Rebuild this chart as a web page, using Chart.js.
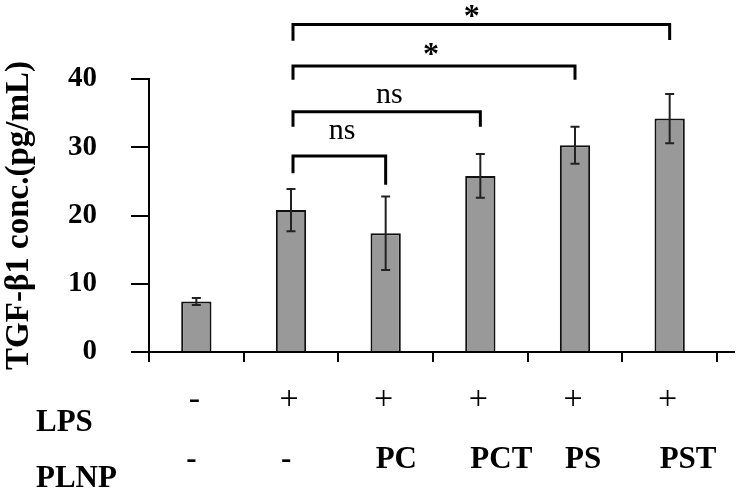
<!DOCTYPE html>
<html>
<head>
<meta charset="utf-8">
<script src="https://cdn.jsdelivr.net/npm/chart.js@4/dist/chart.umd.min.js"></script>
<style>
  html, body { margin: 0; padding: 0; background: #fff; }
  #wrap { width: 739px; height: 495px; }
</style>
</head>
<body>
<div id="wrap"><canvas id="tgfChart"></canvas></div>
<script>
// groups and values
const groups = ['Control', 'LPS', 'LPS+PC', 'LPS+PCT', 'LPS+PS', 'LPS+PST'];
const lpsRow = ['-', '+', '+', '+', '+', '+'];
const plnpRow = ['-', '-', 'PC', 'PCT', 'PS', 'PST'];
const tgfMeans = [7.4, 20.8, 17.4, 25.8, 30.3, 34.2];
const tgfErrors = [0.5, 3.1, 5.4, 3.2, 2.7, 3.6];
const yTicks = [0, 10, 20, 30, 40];

// significance brackets (bar indexes and heights in pg/mL)
const bracketFrom = [1, 1, 1, 1];
const bracketTo = [2, 3, 4, 5];
const bracketTop = [28.7, 35.2, 41.9, 48.0];
const bracketLegLeft = [26.2, 33.0, 39.9, 45.6];
const bracketLegRight = [24.5, 33.0, 39.9, 45.7];
const bracketText = ['ns', 'ns', '*', '*'];
const bracketTextAt = [1.54, 2.04, 2.48, 2.91];
const bracketTextY = [32.3, 37.7, 44.3, 49.9];

const serif = "'Liberation Serif', 'Times New Roman', serif";

const extras = {
  id: 'extras',
  afterDatasetsDraw(chart) {
    const ctx = chart.ctx;
    const x = chart.scales.x;
    const y = chart.scales.y;
    const area = chart.chartArea;
    ctx.save();

    // error bars
    ctx.strokeStyle = '#222';
    ctx.lineWidth = 2;
    tgfMeans.forEach(function(m, i) {
      const cx = x.getPixelForValue(i);
      const hi = y.getPixelForValue(m + tgfErrors[i]);
      const lo = y.getPixelForValue(m - tgfErrors[i]);
      ctx.beginPath();
      ctx.moveTo(cx, hi); ctx.lineTo(cx, lo);
      ctx.moveTo(cx - 4.5, hi); ctx.lineTo(cx + 4.5, hi);
      ctx.moveTo(cx - 4.5, lo); ctx.lineTo(cx + 4.5, lo);
      ctx.stroke();
    });

    // baseline runs a bit past the last tick
    ctx.strokeStyle = '#000';
    ctx.lineWidth = 2;
    ctx.beginPath();
    ctx.moveTo(area.right - 2, y.getPixelForValue(0));
    ctx.lineTo(area.right + 18, y.getPixelForValue(0));
    ctx.stroke();

    // brackets
    ctx.lineWidth = 3;
    bracketFrom.forEach(function(f, i) {
      const x1 = x.getPixelForValue(f) + 2;
      const x2 = x.getPixelForValue(bracketTo[i]);
      ctx.beginPath();
      ctx.moveTo(x1, y.getPixelForValue(bracketLegLeft[i]));
      ctx.lineTo(x1, y.getPixelForValue(bracketTop[i]));
      ctx.lineTo(x2, y.getPixelForValue(bracketTop[i]));
      ctx.lineTo(x2, y.getPixelForValue(bracketLegRight[i]));
      ctx.stroke();

      ctx.fillStyle = '#000';
      ctx.textAlign = 'center';
      ctx.textBaseline = 'middle';
      ctx.font = bracketText[i] === '*' ? 'bold 32px ' + serif : '30px ' + serif;
      const ty = y.getPixelForValue(bracketTextY[i]) + (bracketText[i] === '*' ? 6 : 0);
      ctx.fillText(bracketText[i], x.getPixelForValue(bracketTextAt[i]), ty);
    });

    // treatment rows under the axis
    ctx.fillStyle = '#000';
    ctx.textBaseline = 'middle';
    ctx.font = '34px ' + serif;
    ctx.textAlign = 'center';
    lpsRow.forEach(function(s, i) {
      ctx.fillText(s, x.getPixelForValue(i) - 2, 400);
    });
    ctx.font = 'bold 31px ' + serif;
    ctx.textAlign = 'left';
    plnpRow.forEach(function(s, i) {
      ctx.fillText(s, x.getPixelForValue(i) - 10, 460);
    });
    ctx.fillText('LPS', 36, 423);
    ctx.fillText('PLNP', 36, 479);
    ctx.restore();
  }
};

document.addEventListener('DOMContentLoaded', function() {
  const ctx = document.getElementById('tgfChart').getContext('2d');
  new Chart(ctx, {
    type: 'bar',
    data: {
      labels: groups,
      datasets: [{
        label: 'TGF-β1',
        data: tgfMeans,
        backgroundColor: '#999999',
        borderColor: '#111',
        borderWidth: 2,
        barPercentage: 0.32,
        categoryPercentage: 1
      }]
    },
    options: {
      responsive: true,
      maintainAspectRatio: false,
      animation: false,
      layout: { padding: { top: 79, right: 22, bottom: 132, left: 0 } },
      plugins: { legend: { display: false }, tooltip: { enabled: false } },
      scales: {
        x: {
          grid: { drawOnChartArea: false, tickLength: 10, color: '#000', lineWidth: 2, offset: true },
          border: { display: true, color: '#000', width: 2 },
          ticks: { display: false },
          afterFit: function(s) { s.height = 11; }
        },
        y: {
          min: 0,
          max: 40,
          afterBuildTicks: function(s) { s.ticks = yTicks.map(v => ({ value: v })); },
          grid: { drawOnChartArea: false, tickLength: 18, color: '#000', lineWidth: 2 },
          border: { display: true, color: '#000', width: 2 },
          ticks: {
            padding: 34,
            color: '#000',
            font: { family: serif, size: 29, weight: 'bold' }
          },
          title: {
            display: true,
            text: 'TGF-β1 conc.(pg/mL)',
            color: '#000',
            padding: 0,
            font: { family: serif, size: 33, weight: 'bold' }
          },
          afterFit: function(s) { s.width = 149; }
        }
      }
    },
    plugins: [extras]
  });
});
</script>
</body>
</html>
